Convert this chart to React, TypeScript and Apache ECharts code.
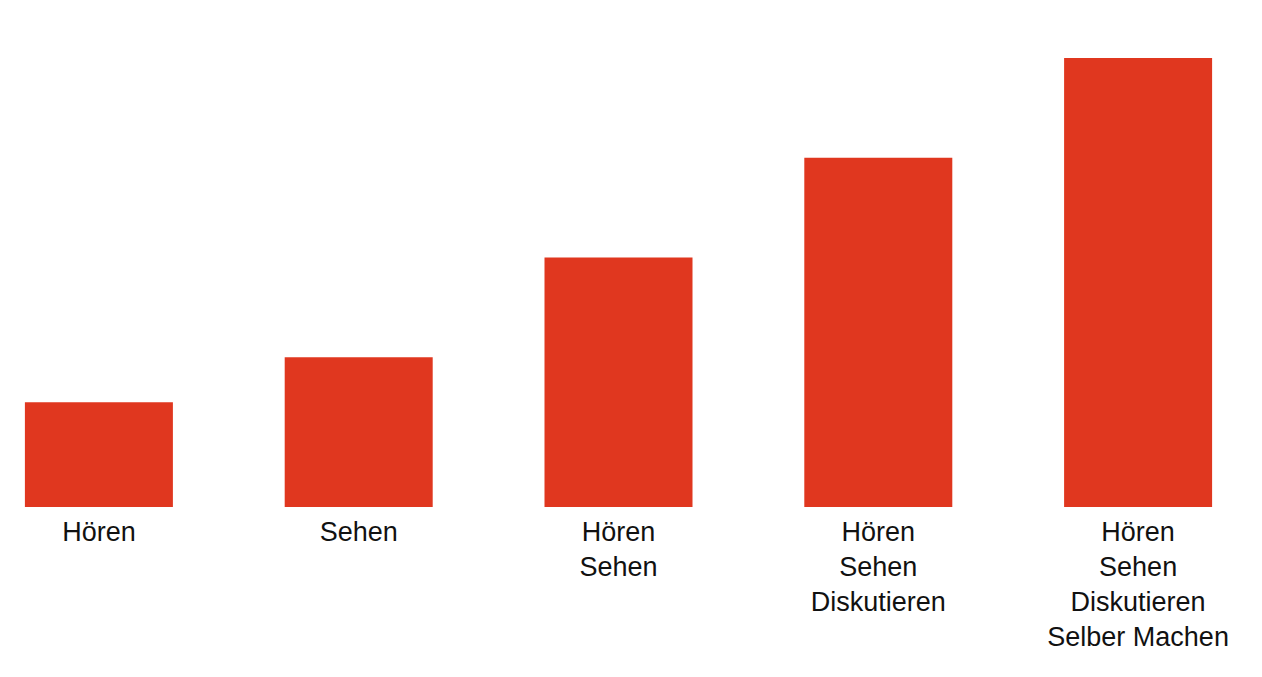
import React, { useEffect, useRef } from "react";
import * as echarts from "echarts";

// Learning activities and how much of the content is retained
const categories: string[] = [
  "Hören",
  "Sehen",
  "Hören\nSehen",
  "Hören\nSehen\nDiskutieren",
  "Hören\nSehen\nDiskutieren\nSelber Machen",
];
const retention: number[] = [21, 30, 50, 70, 90];

const BAR_COLOR = "#E0371F";

export default function App() {
  const ref = useRef<HTMLDivElement>(null);

  useEffect(() => {
    if (!ref.current) return;
    const chart = echarts.init(ref.current, null, { renderer: "svg" });
    chart.setOption({
      animation: false,
      backgroundColor: "#ffffff",
      grid: { left: 0, right: 0, top: 58, bottom: 170, containLabel: false },
      xAxis: {
        type: "category",
        data: categories,
        axisLine: { show: false },
        axisTick: { show: false },
        axisLabel: {
          interval: 0,
          margin: 7,
          color: "#111111",
          fontFamily: "Liberation Sans, Arial, sans-serif",
          fontSize: 27,
          lineHeight: 35,
        },
      },
      yAxis: {
        type: "value",
        min: 0,
        max: 90,
        show: false,
        splitLine: { show: false },
      },
      series: [
        {
          type: "bar",
          data: retention,
          barWidth: 148,
          itemStyle: { color: BAR_COLOR },
        },
      ],
    });
    return () => chart.dispose();
  }, []);

  // The plot is wider than the page so that the five category slots
  // line up with the page edges; the outer box clips the overflow.
  return (
    <div
      style={{
        position: "absolute",
        left: 0,
        top: 0,
        width: 1262,
        height: 677,
        overflow: "hidden",
        background: "#ffffff",
      }}
    >
      <div
        ref={ref}
        style={{ position: "absolute", left: -31, top: 0, width: 1299, height: 677 }}
      />
    </div>
  );
}
